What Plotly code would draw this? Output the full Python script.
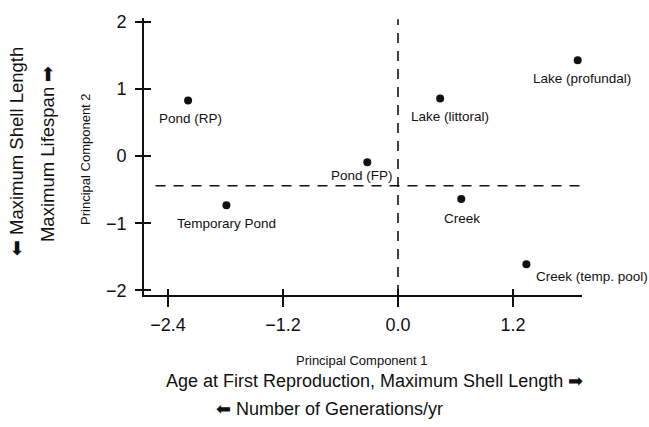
import plotly.graph_objects as go

# Habitat scores on the first two principal components
habitats = ["Pond (RP)", "Lake (littoral)", "Lake (profundal)", "Pond (FP)",
            "Temporary Pond", "Creek", "Creek (temp. pool)"]
pc1 = [-2.19, 0.44, 1.875, -0.32, -1.79, 0.66, 1.34]
pc2 = [0.83, 0.86, 1.43, -0.09, -0.73, -0.64, -1.61]

# Reference lines dividing the ordination space
pc1_split = 0.0
pc2_split = -0.44

x_ticks = [-2.4, -1.2, 0.0, 1.2]
x_tick_text = ["−2.4", "−1.2", "0.0", "1.2"]
y_ticks = [-2, -1, 0, 1, 2]

# Label placement relative to each point (pixels: dx right, dy down, anchor)
label_offsets = [(2, 18, "center"), (10, 18, "center"), (4, 18, "center"),
                 (-5, 13, "center"), (0, 18, "center"), (1, 19, "center"),
                 (8, 12, "left")]

W, H = 649, 427
L, R, T, B = 144, 582, 12, 295
X_RANGE = [-2.65, 1.92]
Y_RANGE = [-2.07, 2.06]
FONT = "Liberation Sans, Arial, Helvetica, sans-serif"
INK = "#111111"


def paper(px, py):
    return (px - L) / (R - L), (B - py) / (B - T)


fig = go.Figure()

fig.add_trace(go.Scatter(
    x=pc1, y=pc2, mode="markers",
    marker=dict(color=INK, size=8),
    hoverinfo="text", text=habitats, showlegend=False,
))
# invisible trace so the overlaid tick axes are rendered
fig.add_trace(go.Scatter(x=[X_RANGE[0]], y=[Y_RANGE[0]], xaxis="x2", yaxis="y2",
                         mode="markers", marker=dict(opacity=0), showlegend=False,
                         hoverinfo="skip"))

dash = dict(color=INK, width=1.6, dash="10px,8px")
fig.add_shape(type="line", xref="x", yref="y", x0=-2.53, x1=1.92,
              y0=pc2_split, y1=pc2_split, line=dash)
fig.add_shape(type="line", xref="x", yref="y", x0=pc1_split, x1=pc1_split,
              y0=Y_RANGE[0], y1=2.04, line=dash)

for name, x, y, (dx, dy, anchor) in zip(habitats, pc1, pc2, label_offsets):
    fig.add_annotation(x=x, y=y, xref="x", yref="y", text=name, showarrow=False,
                       xanchor=anchor, yanchor="middle", xshift=dx, yshift=-dy,
                       font=dict(family=FONT, size=13.5, color=INK))

titles = [
    ("Principal Component 1", 362, 362, 13, 0),
    ("Age at First Reproduction, Maximum Shell Length ➡", 374, 383, 18, 0),
    ("⬅ Number of Generations/yr", 329, 411, 18, 0),
    ("⬅ Maximum Shell Length", 16, 149, 18.5, -90),
    ("Maximum Lifespan ➡", 47, 151, 18.5, -90),
    ("Principal Component 2", 86, 156, 13, -90),
]
for text, px, py, size, ang in titles:
    xp, yp = paper(px, py)
    fig.add_annotation(x=xp, y=yp, xref="paper", yref="paper", text=text,
                       showarrow=False, textangle=ang, xanchor="center",
                       yanchor="middle", font=dict(family=FONT, size=size, color=INK))

axis_common = dict(showgrid=False, zeroline=False, showline=True,
                   linecolor=INK, linewidth=1.8, tickcolor=INK, tickwidth=1.8)

fig.update_layout(
    width=W, height=H,
    margin=dict(l=L, r=W - R, t=T, b=H - B),
    paper_bgcolor="white", plot_bgcolor="white",
    font=dict(family=FONT, color=INK),
    xaxis=dict(range=X_RANGE, tickvals=x_ticks, ticktext=x_tick_text,
               ticks="outside", ticklen=10, ticklabelstandoff=2,
               tickfont=dict(size=18, family=FONT, color=INK), **axis_common),
    yaxis=dict(range=Y_RANGE, tickvals=y_ticks, ticks="outside", ticklen=7,
               ticklabelstandoff=5,
               tickfont=dict(size=18, family=FONT, color=INK), **axis_common),
    xaxis2=dict(range=X_RANGE, overlaying="x", anchor="y2", side="bottom",
                tickvals=x_ticks, ticks="inside", ticklen=6,
                showticklabels=False, **axis_common),
    yaxis2=dict(range=Y_RANGE, overlaying="y", anchor="x2", side="left",
                tickvals=y_ticks, ticks="inside", ticklen=7,
                showticklabels=False, **axis_common),
)

fig.write_html("out.html")
